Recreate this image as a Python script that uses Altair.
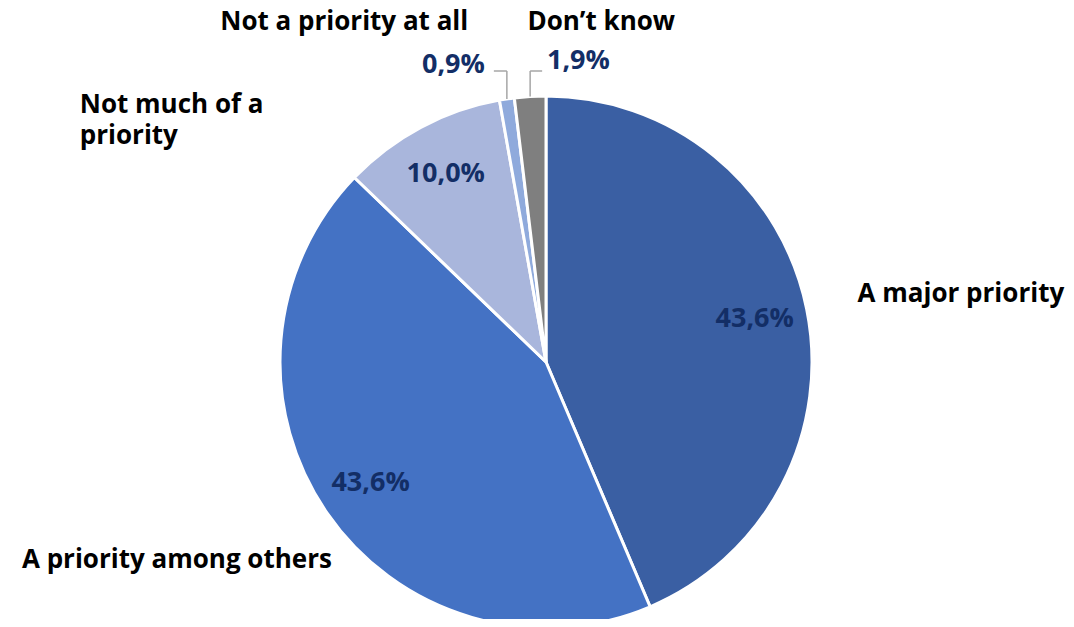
import altair as alt
import pandas as pd

categories = ["A major priority", "A priority among others", "Not much of a priority",
              "Not a priority at all", "Don’t know"]
label_text = ["A major priority", "A priority among others", "Not much of a\npriority",
              "Not a priority at all", "Don’t know"]
values = [43.6, 43.6, 10.0, 0.9, 1.9]
pct_labels = ["43,6%", "43,6%", "10,0%", "0,9%", "1,9%"]
colors = ["#3A5FA3", "#4472C4", "#A9B6DC", "#8FAADC", "#7F7F7F"]

df = pd.DataFrame({
    "category": categories,
    "label": label_text,
    "value": values,
    "pct": pct_labels,
    "order": list(range(len(categories))),
})

W, H = 1058, 611
CX, CY, R = 538, 354, 266
FONT = "Open Sans"
FS_CAT = 26
FS_PCT = 27
NAVY = "#132E66"

base = alt.Chart(df)

theta = alt.Theta("value:Q", stack=True)
order = alt.Order("order:Q", sort="ascending")

pie = base.mark_arc(radius=R, stroke="white", strokeWidth=3).encode(
    theta=theta,
    order=order,
    color=alt.Color("category:N", scale=alt.Scale(domain=categories, range=colors), legend=None),
    x=alt.value(CX),
    y=alt.value(CY),
)


def label_layer(expr, radius, align, color, size, dx=0, dy=0):
    return base.transform_calculate(t=expr).mark_text(
        radius=radius, align=align, baseline="middle", dx=dx, dy=dy,
        font=FONT, fontWeight="bold", fontSize=size, color=color,
        lineBreak="\n", lineHeight=31,
    ).encode(
        theta=theta,
        order=order,
        detail="category:N",
        text="t:N",
        x=alt.value(CX),
        y=alt.value(CY),
    )


layers = [
    pie,
    # percentages inside the large slices
    label_layer("datum.order <= 2 ? datum.pct : ''", 213, "center", NAVY, FS_PCT),
    # small slice percentages
    label_layer("datum.order == 3 ? datum.pct : ''", 300, "right", NAVY, FS_PCT, dx=-17),
    label_layer("datum.order == 4 ? datum.pct : ''", 302, "left", NAVY, FS_PCT, dx=19),
    # category labels
    label_layer("datum.order == 0 ? datum.label : ''", 318, "left", "black", FS_CAT, dy=-4),
    label_layer("datum.order == 1 ? datum.label : ''", 300, "right", "black", FS_CAT, dx=33, dy=28),
    label_layer("datum.order == 2 ? datum.label : ''", 300, "left", "black", FS_CAT, dx=-325, dy=8),
    label_layer("datum.order == 3 ? datum.label : ''", 345, "right", "black", FS_CAT, dx=-27, dy=1),
    label_layer("datum.order == 4 ? datum.label : ''", 345, "left", "black", FS_CAT, dx=2, dy=4),
]

# leader lines for the two thin slices
lead = base.transform_joinaggregate(total="sum(value)").transform_window(
    cum="sum(value)", sort=[alt.SortField("order")], frame=[None, 0]
).transform_calculate(
    mid="(datum.cum - datum.value / 2) / datum.total * 2 * PI",
).transform_calculate(
    ex=f"{CX} + {R} * sin(datum.mid)",
    ey=f"{CY} - {R} * cos(datum.mid)",
    ytop=f"{CY} - 291",
).transform_calculate(
    ex2="datum.order == 3 ? datum.ex - 13 : datum.ex + 12",
).transform_filter("datum.order >= 3")

vert = lead.mark_rule(color="#A6A6A6", strokeWidth=1.5).encode(
    x=alt.X("ex:Q", scale=None, axis=None),
    y=alt.Y("ey:Q", scale=None, axis=None),
    y2="ytop:Q",
)
horiz = lead.mark_rule(color="#A6A6A6", strokeWidth=1.5).encode(
    x=alt.X("ex:Q", scale=None, axis=None),
    x2="ex2:Q",
    y=alt.Y("ytop:Q", scale=None, axis=None),
)

chart = alt.layer(*layers, vert, horiz).properties(
    width=W, height=H, autosize=alt.AutoSizeParams(type="none"), padding=0,
).configure_view(stroke=None)

chart.save("out.html", embed_options={"renderer": "svg", "actions": False})
